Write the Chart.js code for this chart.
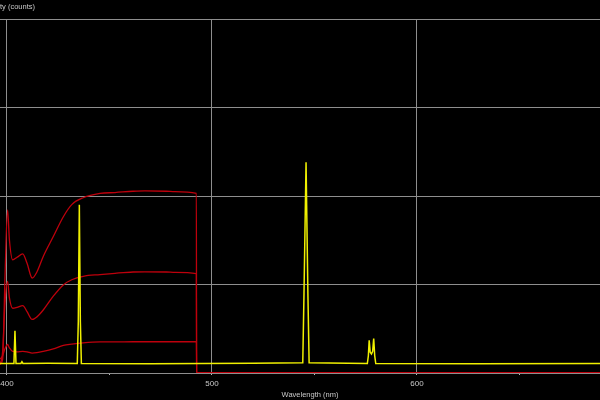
<!DOCTYPE html>
<html>
<head>
<meta charset="utf-8">
<script src="https://cdn.jsdelivr.net/npm/chart.js@4/dist/chart.umd.min.js"></script>
<style>
  html, body { margin: 0; padding: 0; background: #000; }
  canvas { display: block; }
</style>
</head>
<body>
<canvas id="spectrumChart" width="600" height="400"></canvas>
<script>
// mercury lamp lines (yellow trace)
const lampNm = [396.6, 403.4, 403.9, 404.4, 406.8, 407.3, 407.8, 420, 434.3, 434.8, 435.3, 435.8, 436.3, 470, 520,
    544.3, 544.9, 545.9, 546.8, 547.4, 575.8, 576.3, 576.7, 577.2, 577.8, 578.4, 578.9, 579.4, 579.9, 630, 689.3];
const lampCounts = [110, 110, 490, 110, 110, 130, 110, 112, 110, 600, 1950, 600, 110, 108, 112,
    120, 920, 2440, 920, 120, 110, 200, 380, 240, 220, 250, 400, 200, 110, 108, 110];

// red traces share the same wavelengths
const redNm = [396.6, 397.9, 399.0, 400.3, 401.2, 402.8, 404.9, 407.7, 409.8, 412.3, 414.6, 417.7, 422.6, 427.5,
    431.6, 437.2, 445.4, 452.7, 461.5, 467.3, 477.8, 482.0, 492.4, 492.5, 689.3];
const redHigh = [100, 160, 1080, 1890, 1540, 1310, 1340, 1380, 1270, 1100, 1170, 1350, 1580, 1810,
    1950, 2030, 2080, 2090, 2105, 2110, 2105, 2100, 2080, 0, 0];
const redMid = [100, 250, 800, 1060, 870, 750, 760, 780, 710, 620, 650, 730, 890, 1020,
    1080, 1120, 1140, 1155, 1170, 1172, 1170, 1165, 1150, 0, 0];
const redLow = [160, 200, 280, 330, 290, 250, 245, 250, 245, 230, 235, 250, 280, 320,
    335, 350, 360, 360, 362, 362, 362, 362, 362, 0, 0];

const xMin = 396.6;
const xMax = 689.3;
const yMax = 4100;

function toPoints(xs, ys) {
    return xs.map((x, i) => ({ x: x, y: ys[i] }));
}

const gridGray = '#8e8e8e';
const textGray = '#c8c8c8';
const redColor = 'rgb(190, 0, 12)';
const labelFont = '"Liberation Sans", Arial, sans-serif';

const blackBg = {
    id: 'blackBg',
    beforeDraw(chart) {
        const c = chart.ctx;
        c.save();
        c.fillStyle = '#000';
        c.fillRect(0, 0, chart.width, chart.height);
        c.restore();
    }
};

const axisTitles = {
    id: 'axisTitles',
    afterDraw(chart) {
        const c = chart.ctx;
        c.save();
        c.font = '7.5px ' + labelFont;
        c.fillStyle = textGray;
        c.textBaseline = 'middle';
        c.textAlign = 'right';
        c.fillText('Intensity (counts)', 35, 7);
        c.textAlign = 'center';
        c.fillText('Wavelength (nm)', 310, 395);
        c.restore();
    }
};

const ctx = document.getElementById('spectrumChart').getContext('2d');
const myChart = new Chart(ctx, {
    type: 'line',
    data: {
        datasets: [
            {
                label: 'Lamp',
                data: toPoints(lampNm, lampCounts),
                borderColor: 'rgb(240, 240, 0)',
                borderWidth: 1.5,
                tension: 0
            },
            {
                label: 'High',
                data: toPoints(redNm, redHigh),
                borderColor: redColor,
                borderWidth: 1.3,
                cubicInterpolationMode: 'monotone'
            },
            {
                label: 'Mid',
                data: toPoints(redNm, redMid),
                borderColor: redColor,
                borderWidth: 1.3,
                cubicInterpolationMode: 'monotone'
            },
            {
                label: 'Low',
                data: toPoints(redNm, redLow),
                borderColor: redColor,
                borderWidth: 1.3,
                cubicInterpolationMode: 'monotone'
            }
        ]
    },
    options: {
        responsive: false,
        animation: false,
        events: [],
        layout: { padding: { top: 19, left: 0, right: 0, bottom: 0 } },
        elements: { point: { radius: 0 } },
        plugins: {
            legend: { display: false },
            tooltip: { enabled: false }
        },
        scales: {
            x: {
                type: 'linear',
                min: xMin,
                max: xMax,
                afterFit: s => {
                    s.height = 27;
                    s.paddingLeft = 0;
                    s.paddingRight = 0;
                },
                grid: {
                    color: c => (c.tick && c.tick.value % 100 === 0) ? gridGray : 'transparent',
                    tickColor: '#bbb',
                    tickLength: 2
                },
                border: { display: true, color: gridGray },
                ticks: {
                    stepSize: 50,
                    includeBounds: false,
                    maxRotation: 0,
                    autoSkip: false,
                    padding: 4,
                    color: textGray,
                    font: { size: 8, family: labelFont },
                    callback: v => (v % 100 === 0 ? v : '')
                }
            },
            y: {
                min: 0,
                max: yMax,
                afterFit: s => { s.width = 0; },
                grid: { color: gridGray, drawTicks: false },
                border: { display: false },
                ticks: { display: false, stepSize: 1000 }
            }
        }
    },
    plugins: [blackBg, axisTitles]
});
</script>
</body>
</html>
